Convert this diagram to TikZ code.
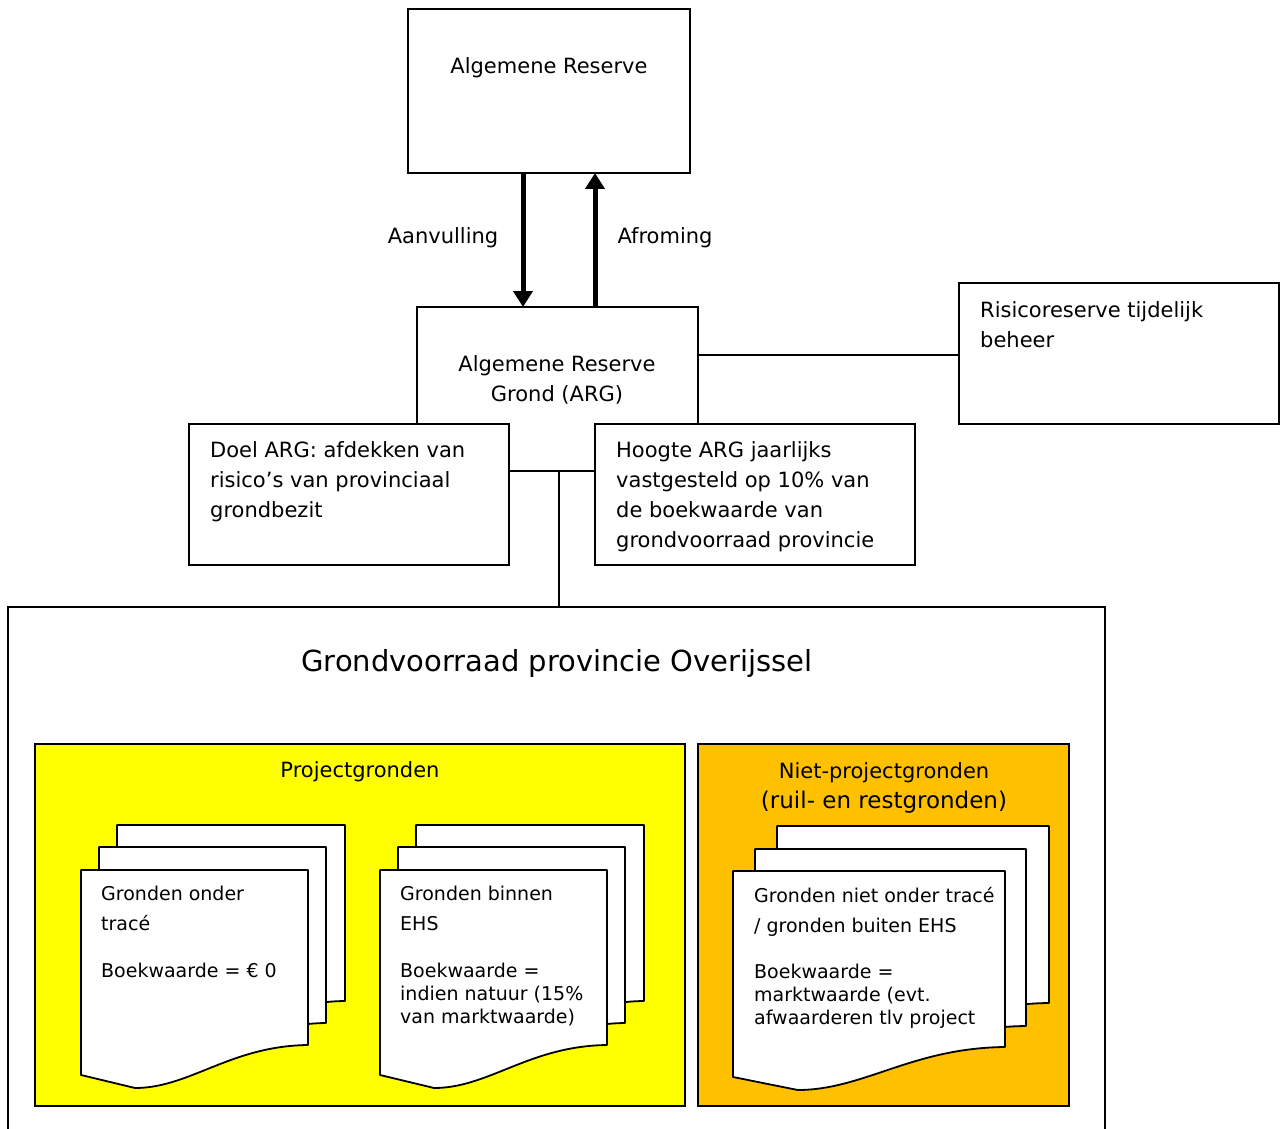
\documentclass[tikz,border=0pt]{standalone}
\usepackage{fontspec}
\setmainfont{DejaVu Sans}
\usetikzlibrary{arrows.meta}
\definecolor{ylw}{HTML}{FFFF00}
\definecolor{org}{HTML}{FFC000}
\newcommand\docpage[4]{%
  \filldraw[pagebox] (#1,#2) -- ({#1+#3},#2) -- ({#1+#3},{#2+#4})
    .. controls ({#1+0.656*#3},{#2+#4+1}) and ({#1+0.48*#3},{#2+#4+43}) ..
    ({#1+0.238*#3},{#2+#4+43}) -- (#1,{#2+#4+30}) -- cycle;}
\begin{document}
\begin{tikzpicture}[x=1pt,y=-1pt,
  box/.style={draw,line width=1.8pt,fill=white},
  pagebox/.style={draw,line width=1.8pt,fill=white,line join=round},
  conn/.style={line width=1.8pt},
  flow/.style={line width=5pt,-{Triangle[width=19pt 0,length=16pt 0]}},
  txt/.style={inner sep=0pt,font=\fontsize{21}{30}\selectfont},
  ltxt/.style={txt,anchor=north west,align=left},
  dtxt/.style={inner sep=0pt,anchor=north west,align=left,font=\fontsize{19}{30}\selectfont},
  dtxtb/.style={inner sep=0pt,anchor=north west,align=left,font=\fontsize{19}{23}\selectfont}]
\useasboundingbox (0,0) rectangle (1283,1129);
\fill[white] (0,0) rectangle (1283,1129);

% top box
\draw[box] (408,9) rectangle (690,173);
\node[txt] (ar) at (549,68) {Algemene Reserve};
\coordinate (arS1) at (523,173);
\coordinate (arS2) at (595,173);

% ARG box
\draw[box] (417,307) rectangle (698,471);
\node[txt,align=center] (arg) at (557,380) {Algemene Reserve\\Grond (ARG)};
\coordinate (argN1) at (523,307);
\coordinate (argN2) at (595,307);
\coordinate (argE) at (698,355);
\coordinate (argS) at (559,471);

\draw[flow] (arS1) -- (argN1);
\draw[flow] (argN2) -- (arS2);
\node[txt] (aanv) at (443,238) {Aanvulling};
\node[txt] (afr) at (665,238) {Afroming};

% risk box
\draw[box] (959,283) rectangle (1279,424);
\coordinate (riskW) at (959,355);
\node[ltxt] (risk) at (980,301) {Risicoreserve tijdelijk\\beheer};
\draw[conn] (argE) -- (riskW);

% Doel and Hoogte
\draw[box] (189,424) rectangle (509,565);
\node[ltxt] (doel) at (210,441) {Doel ARG: afdekken van\\risico’s van provinciaal\\grondbezit};
\draw[box] (595,424) rectangle (915,565);
\node[ltxt] (hoogte) at (616,441) {Hoogte ARG jaarlijks\\vastgesteld op 10\% van\\de boekwaarde van\\grondvoorraad provincie};

% big box
\coordinate (bigN) at (559,607);
\draw[conn] (argS) -- (bigN);
\draw[conn] (8,1135) -- (8,607) -- (1105,607) -- (1105,1135);
\node[inner sep=0pt,font=\fontsize{29}{35}\selectfont] (title) at (557,663) {Grondvoorraad provincie Overijssel};

% yellow
\draw[line width=1.8pt,fill=ylw] (35,744) rectangle (685,1106);
\node[txt] (proj) at (360,772) {Projectgronden};
% orange
\draw[line width=1.8pt,fill=org] (698,744) rectangle (1069,1106);
\node[txt] (niet1) at (884,773) {Niet-projectgronden};
\node[inner sep=0pt,font=\fontsize{23}{30}\selectfont] (niet2) at (884,802) {(ruil- en restgronden)};

% documents 1
\docpage{117}{825}{228}{176}
\docpage{99}{847}{227}{176}
\docpage{81}{870}{227}{175}
\node[dtxt] (d1a) at (101,886) {Gronden onder\\tracé};
\node[dtxt] (d1b) at (101,963) {Boekwaarde = € 0};

% documents 2
\docpage{416}{825}{228}{176}
\docpage{398}{847}{227}{176}
\docpage{380}{870}{227}{175}
\node[dtxt] (d2a) at (400,886) {Gronden binnen\\EHS};
\node[dtxtb] (d2b) at (400,963) {Boekwaarde =\\indien natuur (15\%\\van marktwaarde)};

% documents 3
\docpage{777}{826}{272}{177}
\docpage{755}{849}{271}{177}
\docpage{733}{871}{272}{176}
\node[dtxt] (d3a) at (754,887) {Gronden niet onder tracé\\/ gronden buiten EHS};
\node[dtxtb] (d3b) at (754,964) {Boekwaarde =\\marktwaarde (evt.\\afwaarderen tlv project};
\end{tikzpicture}
\end{document}
